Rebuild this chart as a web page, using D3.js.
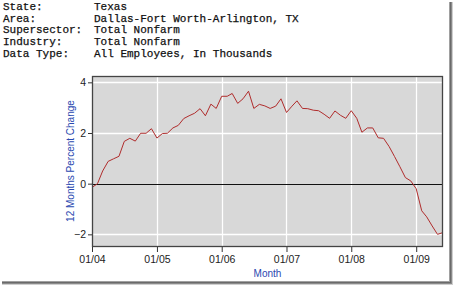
<!DOCTYPE html>
<html><head><meta charset="utf-8">
<script src="https://cdn.jsdelivr.net/npm/d3@7"></script>
<style>html,body{margin:0;padding:0;background:#fff;}svg{display:block;}</style>
</head><body>
<svg id="c" width="454" height="286"></svg>
<script>
const headerLabels = ["State:", "Area:", "Supersector:", "Industry:", "Data Type:"];
const headerValues = ["Texas", "Dallas-Fort Worth-Arlington, TX", "Total Nonfarm", "Total Nonfarm", "All Employees, In Thousands"];
const startMonth = "2004-01";
const values = [
  -0.15, 0.0, 0.5, 0.88, 0.98, 1.08, 1.67, 1.79, 1.68, 1.99, 1.99, 2.17,
  1.8, 1.98, 1.99, 2.2, 2.3, 2.57, 2.68, 2.78, 2.96, 2.68, 3.14, 2.97,
  3.45, 3.45, 3.56, 3.17, 3.35, 3.65, 2.97, 3.13, 3.07, 2.97, 3.06, 3.35,
  2.81, 3.06, 3.27, 2.97, 2.96, 2.9, 2.88, 2.74, 2.58, 2.87, 2.7, 2.58,
  2.88, 2.58, 2.03, 2.2, 2.2, 1.81, 1.79, 1.47, 1.07, 0.67, 0.24, 0.11,
  -0.2, -1.07, -1.31, -1.67, -2.0, -1.93
];
const yTicks = [-2, 0, 2, 4];
const yDomain = [-2.5, 4.25];
const yTitle = "12 Months Percent Change";
const xTitle = "Month";

const svg = d3.select("#c");

// frame shadow
const shadowR = ["#a0a0a0", "#6a6a6a", "#8a8a8a", "#cfcfcf"];
shadowR.forEach((c, i) => {
  svg.append("line").attr("x1", 449.5 + i).attr("x2", 449.5 + i).attr("y1", 2).attr("y2", 281 + i).attr("stroke", c);
  svg.append("line").attr("y1", 281.5 + i).attr("y2", 281.5 + i).attr("x1", 2).attr("x2", 450 + i).attr("stroke", c);
});

// header
const hdr = svg.append("g").attr("font-family", "'Liberation Mono','Courier New',monospace").attr("font-size", 11)
  .attr("fill", "#111").attr("stroke", "#111").attr("stroke-width", 0.25);
headerLabels.forEach((t, i) => {
  hdr.append("text").attr("x", 3).attr("y", 10 + i * 11.7).text(t);
  hdr.append("text").attr("x", 94).attr("y", 10 + i * 11.7).text(headerValues[i]);
});

const m = {l: 92, r: 443, t: 76, b: 247};
const parse = d3.utcParse("%Y-%m");
const t0 = parse(startMonth);
const data = values.map((v, i) => ({d: d3.utcMonth.offset(t0, i), v}));
const x = d3.scaleUtc().domain([t0, d3.utcMonth.offset(t0, 65)]).range([m.l, m.r]);
const y = d3.scaleLinear().domain(yDomain).range([m.b, m.t]);

svg.append("rect").attr("x", m.l).attr("y", m.t).attr("width", m.r - m.l).attr("height", m.b - m.t).attr("fill", "#d8d8d8");

const years = d3.utcYear.range(t0, d3.utcMonth.offset(t0, 66));
// grid
svg.append("g").selectAll("line").data(years.slice(1)).join("line")
  .attr("x1", d => Math.round(x(d)) + 0.5).attr("x2", d => Math.round(x(d)) + 0.5)
  .attr("y1", m.t).attr("y2", m.b).attr("stroke", "#fff").attr("stroke-width", 1.3);
svg.append("g").selectAll("line").data(yTicks.filter(d => d !== 0)).join("line")
  .attr("y1", d => Math.round(y(d)) + 0.5).attr("y2", d => Math.round(y(d)) + 0.5)
  .attr("x1", m.l).attr("x2", m.r).attr("stroke", "#fff").attr("stroke-width", 1.3);
// zero line
svg.append("line").attr("x1", m.l).attr("x2", m.r).attr("y1", Math.round(y(0)) + 0.5).attr("y2", Math.round(y(0)) + 0.5).attr("stroke", "#111");

// data line
svg.append("path").datum(data).attr("fill", "none").attr("stroke", "#b02c2c").attr("stroke-width", 1)
  .attr("d", d3.line().x(d => x(d.d)).y(d => y(d.v)));

// border
svg.append("rect").attr("x", m.l + 0.5).attr("y", m.t + 0.5).attr("width", m.r - m.l - 1).attr("height", m.b - m.t - 1)
  .attr("fill", "none").attr("stroke", "#444").attr("stroke-width", 1.3);

// axes
const yAxis = d3.axisLeft(y).tickValues(yTicks).tickSize(4).tickPadding(2).tickFormat(d3.format("d"));
const gy = svg.append("g").attr("transform", `translate(${m.l},0)`).call(yAxis);
const xAxis = d3.axisBottom(x).tickValues(years).tickSize(5).tickPadding(4).tickFormat(d3.utcFormat("%m/%y"));
const gx = svg.append("g").attr("transform", `translate(0,${m.b})`).call(xAxis);
[gx, gy].forEach(g => {
  g.select(".domain").remove();
  g.selectAll(".tick line").attr("stroke", "#333");
  g.selectAll("text").attr("font-family", "'Liberation Sans',Arial,sans-serif").attr("font-size", 10.5).attr("fill", "#222");
});

svg.append("text").attr("x", (m.l + m.r) / 2).attr("y", 277).attr("text-anchor", "middle")
  .attr("font-family", "'Liberation Sans',Arial,sans-serif").attr("font-size", 10).attr("fill", "#2a48b0").text(xTitle);
svg.append("text").attr("transform", `translate(74,161) rotate(-90)`).attr("text-anchor", "middle")
  .attr("font-family", "'Liberation Sans',Arial,sans-serif").attr("font-size", 10).attr("fill", "#2a48b0").text(yTitle);
</script>
</body></html>
